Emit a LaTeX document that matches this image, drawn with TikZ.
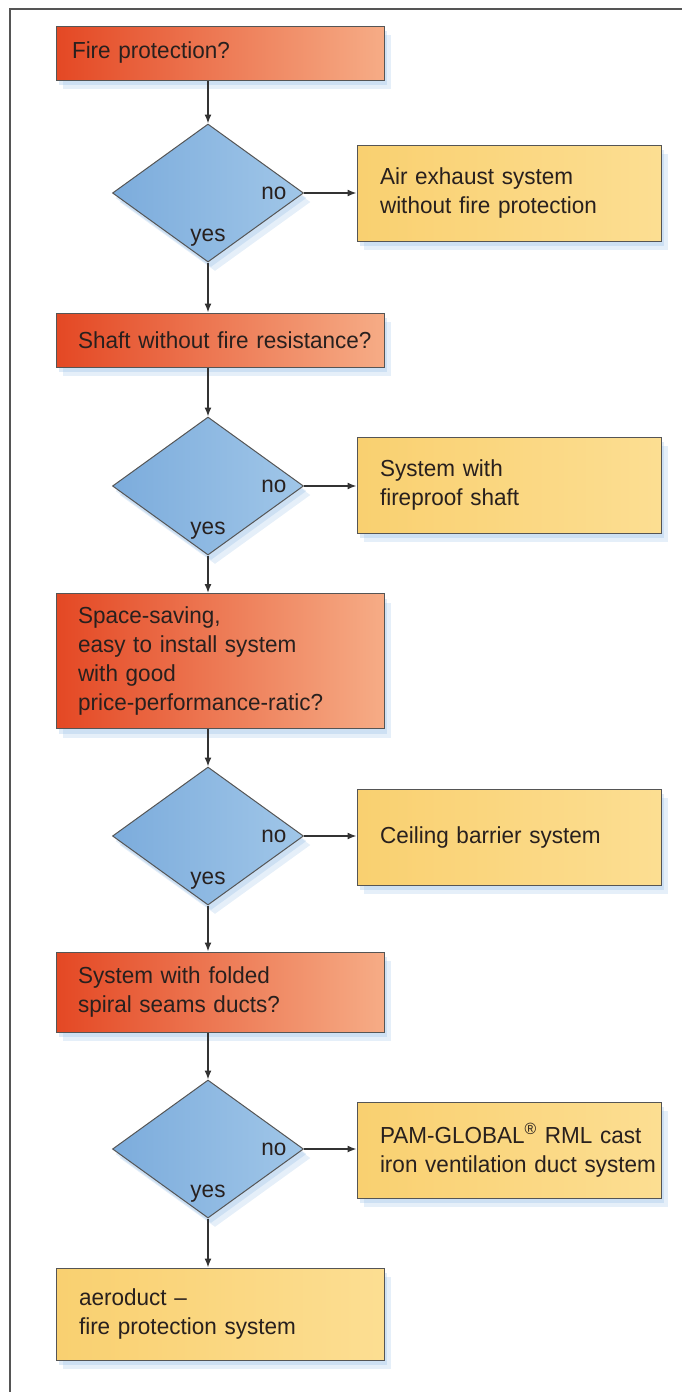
\documentclass[tikz,border=0pt]{standalone}
\usepackage{fontspec}
\setmainfont{Liberation Sans}[FakeStretch=0.97]
\usepackage{tikz}
\usetikzlibrary{shapes.geometric,shadows,arrows.meta}

\definecolor{qred}{RGB}{228,72,36}
\definecolor{qredlight}{RGB}{246,172,134}
\definecolor{ansyellow}{RGB}{249,208,112}
\definecolor{ansyellowlight}{RGB}{252,222,146}
\definecolor{diablue}{RGB}{124,172,220}
\definecolor{diabluelight}{RGB}{160,198,232}
\definecolor{glowblue}{RGB}{150,190,230}
\definecolor{edgegray}{RGB}{85,85,85}
\definecolor{inkdark}{RGB}{40,32,30}

\begin{document}
\begin{tikzpicture}[x=0.5pt,y=-0.5pt,
    font=\fontsize{11.6}{14.5}\selectfont, text=inkdark,
    glow/.style={drop shadow={shadow xshift=3.5pt,shadow yshift=-4.5pt,fill=glowblue,opacity=.25},
                 drop shadow={shadow xshift=1.5pt,shadow yshift=-2.5pt,fill=glowblue,opacity=.3}},
    padleft/.style={inner xsep=0pt,align=left,execute at begin node={\leftskip=#1\hyphenpenalty=10000}},
    question/.style={glow,rectangle,draw=edgegray,line width=0.5pt,
      left color=qred,right color=qredlight,
      minimum width=164pt,text width=164pt,inner ysep=6pt,padleft=11pt},
    answer/.style={glow,rectangle,draw=edgegray,line width=0.5pt,
      left color=ansyellow,right color=ansyellowlight,
      minimum width=152pt,minimum height=48pt,text width=152pt,padleft=11.5pt},
    decision/.style={glow,diamond,draw=edgegray,line width=0.5pt,
      left color=diablue,right color=diabluelight,
      minimum width=95.5pt,minimum height=69pt,inner sep=0pt},
    flow/.style={draw=black!80,line width=0.7pt,-{Latex[length=4.5pt,width=3.5pt]}},
  ]
    \useasboundingbox (0,0) rectangle (682,1392);
    \draw[edgegray,line width=1pt] (10,1392) -- (10,9) -- (682,9);

    % questions
    \node[question,minimum height=27pt,padleft=8pt] (q1) at (220,53) {Fire protection?};
    \node[question,minimum height=27pt] (q2) at (220,340) {Shaft without fire resistance?};
    \node[question,minimum height=67.5pt] (q3) at (220,661)
      {Space-saving,\\easy to install system\\with good\\price-performance-ratic?};
    \node[question,minimum height=40pt] (q4) at (220,992) {System with folded\\spiral seams ducts?};

    % decisions
    \node[decision] (d1) at (208,193) {};
    \node[decision] (d2) at (208,486) {};
    \node[decision] (d3) at (208,836) {};
    \node[decision] (d4) at (208,1149) {};

    % answers
    \node[answer] (a1) at (509,193) {Air exhaust system\\without fire protection};
    \node[answer] (a2) at (509,485) {System with\\fireproof shaft};
    \node[answer] (a3) at (509,837) {Ceiling barrier system};
    \node[answer] (a4) at (509,1150) {PAM-GLOBAL\textsuperscript{\textregistered} RML cast\\iron ventilation duct system};
    \node[answer,minimum width=164pt,minimum height=46pt,text width=164pt] (a5) at (220,1314)
      {aeroduct --\\fire protection system};

    % yes / no
    \node (no1) at ([xshift=-15pt]d1.east) {no};
    \node (yes1) at ([yshift=12.5pt]d1.south) {yes};
    \node (no2) at ([xshift=-15pt]d2.east) {no};
    \node (yes2) at ([yshift=12.5pt]d2.south) {yes};
    \node (no3) at ([xshift=-15pt]d3.east) {no};
    \node (yes3) at ([yshift=12.5pt]d3.south) {yes};
    \node (no4) at ([xshift=-15pt]d4.east) {no};
    \node (yes4) at ([yshift=12.5pt]d4.south) {yes};

    \draw[flow] (d1 |- q1.south) -- (d1.north);
    \draw[flow] (d1.east) -- (d1.east -| a1.west);
    \draw[flow] (d1.south) -- (d1.south |- q2.north);
    \draw[flow] (d2 |- q2.south) -- (d2.north);
    \draw[flow] (d2.east) -- (d2.east -| a2.west);
    \draw[flow] (d2.south) -- (d2.south |- q3.north);
    \draw[flow] (d3 |- q3.south) -- (d3.north);
    \draw[flow] (d3.east) -- (d3.east -| a3.west);
    \draw[flow] (d3.south) -- (d3.south |- q4.north);
    \draw[flow] (d4 |- q4.south) -- (d4.north);
    \draw[flow] (d4.east) -- (d4.east -| a4.west);
    \draw[flow] (d4.south) -- (d4.south |- a5.north);
\end{tikzpicture}
\end{document}
